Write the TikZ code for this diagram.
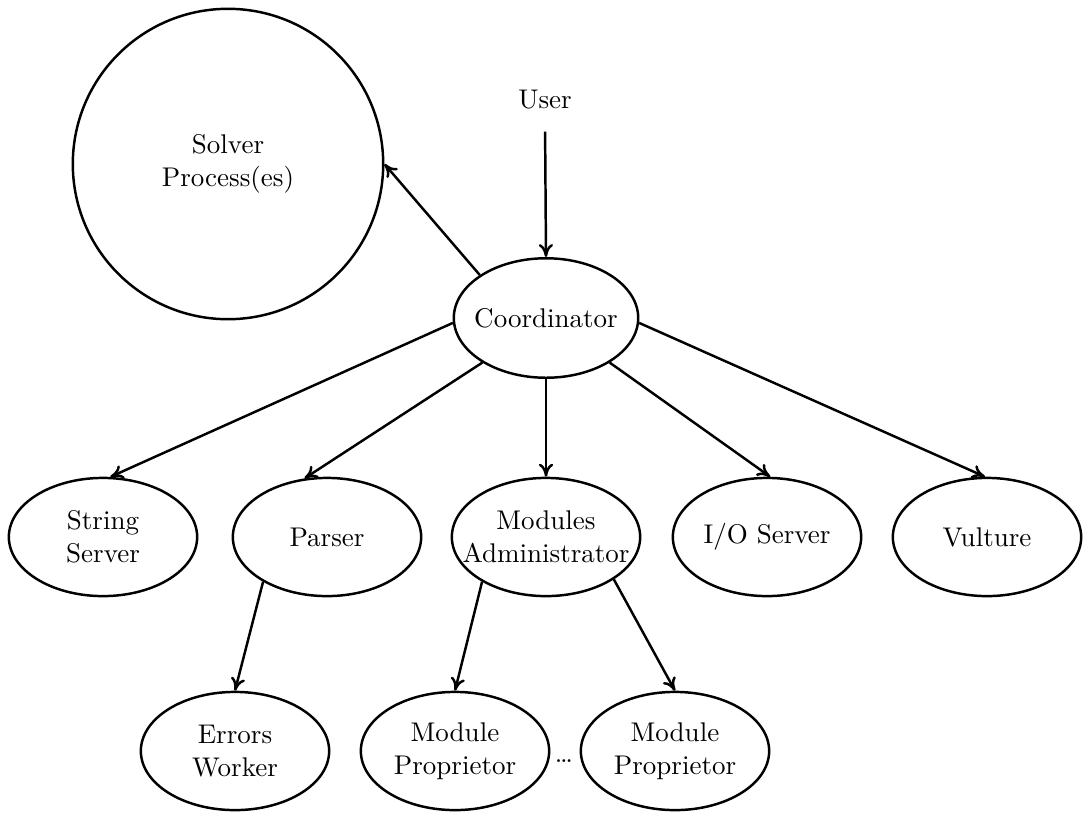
\documentclass[tikz,border=0pt]{standalone}
\usetikzlibrary{arrows.meta,shapes.geometric}
\begin{document}
\begin{tikzpicture}[x=0.385pt,y=-0.385pt,
  every node/.style={font=\fontsize{10.4}{12.7}\selectfont},
  proc/.style={draw,ellipse,line width=0.95pt,align=center,
    minimum width=72.5pt,minimum height=45.5pt,inner sep=1pt},
  link/.style={line width=0.95pt,-{To[length=5pt,width=5.5pt]}}]
\useasboundingbox (0,0) rectangle (1083,812);

% process nodes
\node[draw,circle,line width=0.95pt,minimum size=119.5pt,inner sep=0pt,align=center] (solver) at (228,164) {Solver\\Process(es)};
\node (user) at (545,100) {User};
\node[proc,inner xsep=-3pt,minimum width=71pt,minimum height=46pt] (coord) at (546,318) {Coordinator};

\node[proc] (ss) at (103,537) {String\\Server};
\node[proc] (parser) at (327,537) {Parser};
\node[proc,inner xsep=-7pt] (ma) at (546,537) {Modules\\Administrator};
\node[proc] (io) at (767,537) {I/O Server};
\node[proc] (vulture) at (987,537) {Vulture};

\node[proc] (ew) at (235,751) {Errors\\Worker};
\node[proc] (mp1) at (455,751) {Module\\Proprietor};
\node[proc] (mp2) at (675,751) {Module\\Proprietor};
\node[inner sep=0pt] (dots) at (564,761) {\dots};

% connectors
\draw[link,shorten <=5pt] (user.south) -- (coord.north);
\draw[link] (coord.147) -- (solver.east);
\draw[link] (coord.183) -- (ss.83);
\draw[link] (coord.215) -- (parser.111);
\draw[link] (coord.south) -- (ma.north);
\draw[link] (coord.325) -- (io.87);
\draw[link] (coord.357) -- (vulture.92);
\draw[link] (parser.215) -- (ew.north);
\draw[link] (ma.215) -- (mp1.north);
\draw[link] (ma.328) -- (mp2.north);
\end{tikzpicture}
\end{document}
